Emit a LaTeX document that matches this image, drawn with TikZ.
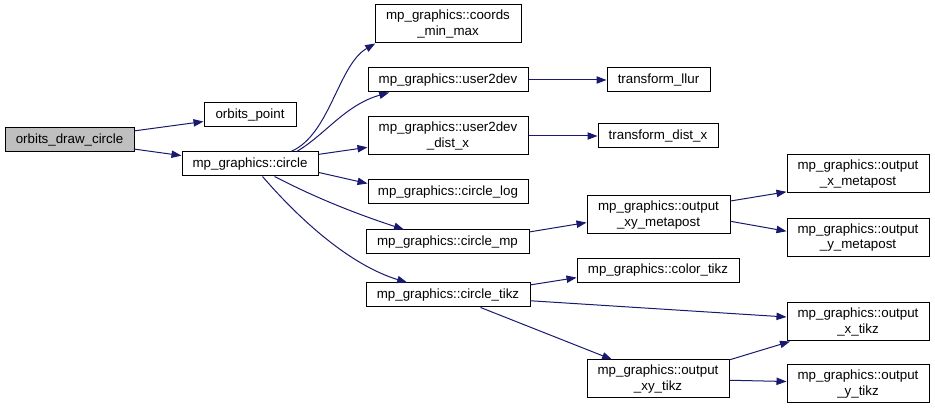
\documentclass[tikz,border=0pt]{standalone}
\usepackage{fontspec}
\setmainfont{Liberation Sans}
\usetikzlibrary{arrows.meta}
\definecolor{callblue}{HTML}{191970}
\definecolor{curgray}{HTML}{BFBFBF}

\begin{document}
\begin{tikzpicture}[x=0.75pt, y=-0.75pt,
    fnbox/.style={draw, line width=0.75pt, fill=white, inner sep=0pt, align=center,
                  font=\fontsize{10}{11.5}\selectfont, minimum height=18pt},
    tall/.style={minimum height=28.5pt},
    arr/.style={callblue, line width=0.75pt, -{Triangle[length=7.5pt, width=5.5pt]}}
  ]
    \useasboundingbox (0,0) rectangle (935,409);

    % callers on the left
    \node[fnbox, fill=curgray, minimum width=96.75pt] (drawcircle) at (69.5,140) {orbits\_draw\_circle};
    \node[fnbox, minimum width=69pt] (point) at (250,115) {orbits\_point};
    \node[fnbox, minimum width=102pt] (circle) at (250,164) {mp\_graphics::circle};

    % second column
    \node[fnbox, tall, minimum width=109.5pt] (coords) at (448,24)
      {mp\_graphics::coords\\\_min\_max};
    \node[fnbox, minimum width=120pt] (user2dev) at (448,80) {mp\_graphics::user2dev};
    \node[fnbox, tall, minimum width=120pt] (distx) at (448,136)
      {mp\_graphics::user2dev\\\_dist\_x};
    \node[fnbox, minimum width=120pt] (circlelog) at (448,192) {mp\_graphics::circle\_log};
    \node[fnbox, minimum width=122.25pt] (circlemp) at (447.5,242) {mp\_graphics::circle\_mp};
    \node[fnbox, minimum width=123pt] (circletikz) at (448,295) {mp\_graphics::circle\_tikz};

    % third column
    \node[fnbox, minimum width=77.25pt] (llur) at (658.5,80) {transform\_llur};
    \node[fnbox, minimum width=90pt] (tdistx) at (658,136) {transform\_dist\_x};
    \node[fnbox, tall, minimum width=107.25pt] (xymeta) at (658.5,215)
      {mp\_graphics::output\\\_xy\_metapost};
    \node[fnbox, minimum width=121.5pt] (colortikz) at (658,270.5) {mp\_graphics::color\_tikz};
    \node[fnbox, tall, minimum width=106.5pt] (xytikz) at (658,379)
      {mp\_graphics::output\\\_xy\_tikz};

    % last column
    \node[fnbox, tall, minimum width=106.5pt] (xmeta) at (858,174)
      {mp\_graphics::output\\\_x\_metapost};
    \node[fnbox, tall, minimum width=106.5pt] (ymeta) at (858,237.5)
      {mp\_graphics::output\\\_y\_metapost};
    \node[fnbox, tall, minimum width=106.5pt] (xtikz) at (858,322)
      {mp\_graphics::output\\\_x\_tikz};
    \node[fnbox, tall, minimum width=106.5pt] (ytikz) at (858,384)
      {mp\_graphics::output\\\_y\_tikz};

    % calls
    \draw[arr] (drawcircle.8) -- (point.188.6);
    \draw[arr] (drawcircle.-8) -- (circle.173.3);
    \draw[arr] (circle.17.5) .. controls (330,135) and (338,65) .. (coords.195.2);
    \draw[arr] (circle.15.6) .. controls (325,135) and (345,105) .. (user2dev.192.8);
    \draw[arr] (circle.8.4) -- (distx.188.5);
    \draw[arr] (circle.-7.5) -- (circlelog.174.3);
    \draw[arr] (circle.-27.5) .. controls (320,200) and (360,215) .. (circlemp.164.2);
    \draw[arr] (circle.-45) .. controls (300,220) and (350,265) .. (circletikz.163.7);
    \draw[arr] (user2dev.east) -- (llur.west);
    \draw[arr] (distx.east) -- (tdistx.west);
    \draw[arr] (circlemp.7.7) -- (xymeta.186.4);
    \draw[arr] (xymeta.11.8) -- (xmeta.194.2);
    \draw[arr] (xymeta.-5.6) -- (ymeta.175.6);
    \draw[arr] (circletikz.7) -- (colortikz.185.4);
    \draw[arr] (circletikz.-4.2) -- (xtikz.176);
    \draw[arr] (circletikz.-21.8) -- (xytikz.157.6);
    \draw[arr] (xytikz.15.8) -- (xtikz.196.8);
    \draw[arr] (xytikz.-1.6) -- (ytikz.178.4);
\end{tikzpicture}
\end{document}
